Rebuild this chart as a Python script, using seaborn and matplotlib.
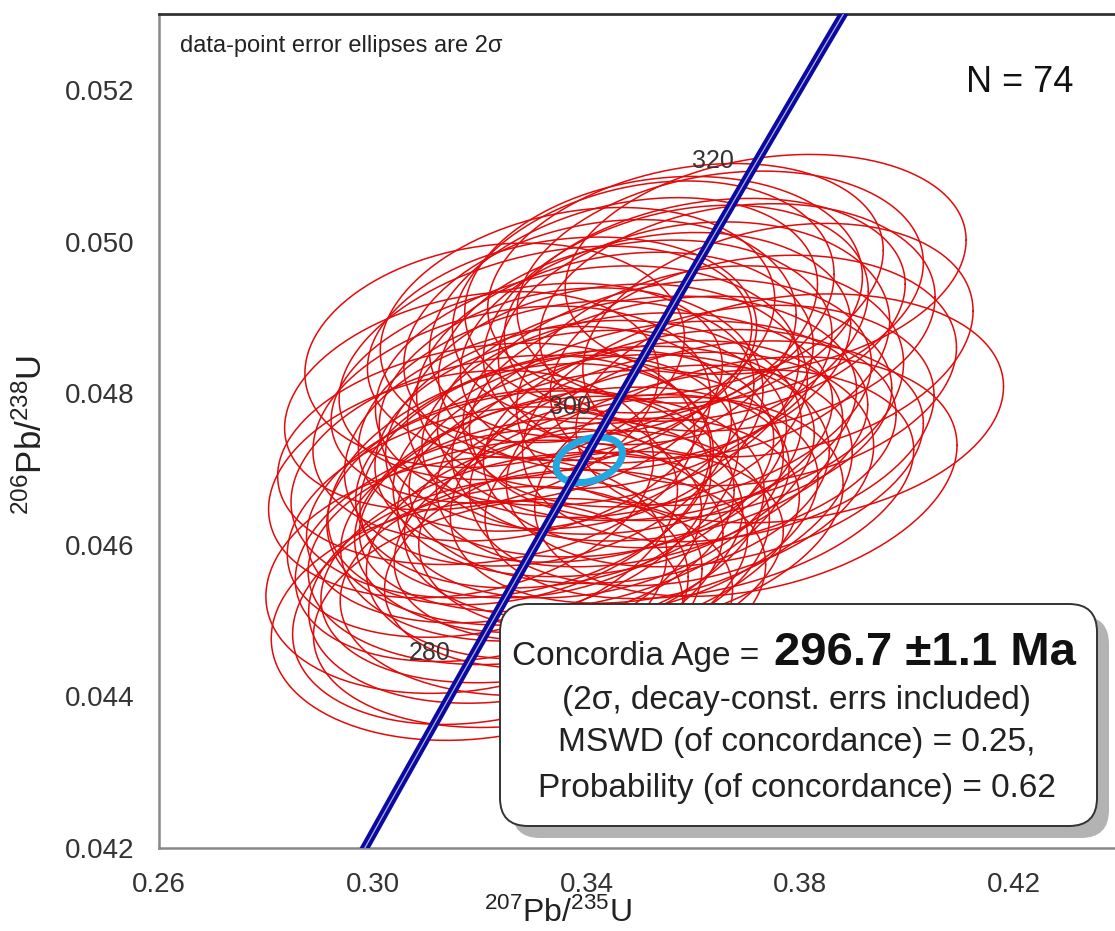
import numpy as np
import pandas as pd
import matplotlib
matplotlib.use("Agg")
import matplotlib.pyplot as plt
import seaborn as sns
from matplotlib.patches import FancyBboxPatch
from matplotlib.transforms import IdentityTransform

# ---------------- data ----------------
# concordia curve (age in Ma, 207Pb/235U, 206Pb/238U)
conc_age = [260, 270, 280, 290, 300, 310, 320, 330, 340]
conc_x = [0.291832, 0.304617, 0.317529, 0.330569, 0.343737, 0.357036, 0.370471, 0.384031, 0.397730]
conc_y = [0.0411569, 0.0427733, 0.0443921, 0.0460135, 0.0476374, 0.0492638, 0.0508927, 0.0525242, 0.0541582]
age_labels = [280, 300, 320]

# data-point ellipses: centre, 2-sigma errors, error correlation
ell_x = [0.3165, 0.3175, 0.3185, 0.3195, 0.3205, 0.3212, 0.3220, 0.3228, 0.3235, 0.3242, 0.3248, 0.3254,
         0.3260, 0.3267, 0.3274, 0.3281, 0.3288, 0.3295, 0.3302, 0.3309, 0.3316, 0.3323, 0.3330, 0.3337, 0.3343, 0.3349,
         0.3354, 0.3359, 0.3365, 0.3371, 0.3377, 0.3383, 0.3389, 0.3395, 0.3401, 0.3407, 0.3413, 0.3419, 0.3425, 0.3432, 0.3439, 0.3446,
         0.3453, 0.3461, 0.3469, 0.3476, 0.3483, 0.3491, 0.3499, 0.3506, 0.3513, 0.3521, 0.3529, 0.3537, 0.3544, 0.3551,
         0.3559, 0.3567, 0.3576, 0.3585, 0.3593, 0.3601, 0.3611, 0.3621, 0.3631, 0.3640, 0.3650,
         0.3665, 0.3682, 0.3698, 0.3712, 0.3735, 0.3758, 0.3780]
ell_y = [0.04680, 0.04560, 0.04790, 0.04500, 0.04630, 0.04720, 0.04520, 0.04850, 0.04600, 0.04690, 0.04540, 0.04650,
         0.04760, 0.04590, 0.04680, 0.04510, 0.04800, 0.04650, 0.04570, 0.04730, 0.04620, 0.04840, 0.04690, 0.04550, 0.04770, 0.04640,
         0.04860, 0.04700, 0.04600, 0.04780, 0.04660, 0.04890, 0.04730, 0.04580, 0.04810, 0.04680, 0.04740, 0.04620, 0.04870, 0.04710, 0.04790, 0.04650,
         0.04830, 0.04700, 0.04900, 0.04760, 0.04640, 0.04850, 0.04720, 0.04920, 0.04780, 0.04680, 0.04860, 0.04750, 0.04930, 0.04800,
         0.04700, 0.04890, 0.04780, 0.04950, 0.04740, 0.04870, 0.04680, 0.04910, 0.04810, 0.04720, 0.04940,
         0.04760, 0.04900, 0.04690, 0.04830, 0.04970, 0.04870, 0.04780]
ell_sx = [0.0360, 0.0375, 0.0350, 0.0385, 0.0365, 0.0390, 0.0370, 0.0355, 0.0380, 0.0395, 0.0368, 0.0378,
          0.0372, 0.0388, 0.0358, 0.0392, 0.0366, 0.0381, 0.0399, 0.0362, 0.0376, 0.0386, 0.0354, 0.0398, 0.0370, 0.0383,
          0.0364, 0.0391, 0.0377, 0.0359, 0.0402, 0.0369, 0.0385, 0.0373, 0.0396, 0.0361, 0.0389, 0.0379, 0.0367, 0.0394, 0.0374, 0.0387,
          0.0371, 0.0393, 0.0363, 0.0384, 0.0397, 0.0368, 0.0380, 0.0357, 0.0392, 0.0376, 0.0365, 0.0389, 0.0372, 0.0382,
          0.0378, 0.0360, 0.0395, 0.0370, 0.0386, 0.0366, 0.0401, 0.0375, 0.0362, 0.0390, 0.0380,
          0.0385, 0.0370, 0.0395, 0.0380, 0.0375, 0.0365, 0.0400]
ell_sy = [0.00150, 0.00156, 0.00144, 0.00158, 0.00152, 0.00146, 0.00157, 0.00148, 0.00154, 0.00160, 0.00149, 0.00153,
          0.00155, 0.00148, 0.00159, 0.00151, 0.00145, 0.00156, 0.00152, 0.00158, 0.00147, 0.00154, 0.00160, 0.00149, 0.00152, 0.00156,
          0.00146, 0.00157, 0.00151, 0.00159, 0.00148, 0.00155, 0.00153, 0.00143, 0.00158, 0.00150, 0.00156, 0.00147, 0.00159, 0.00152, 0.00154, 0.00148,
          0.00156, 0.00151, 0.00158, 0.00146, 0.00155, 0.00152, 0.00149, 0.00160, 0.00148, 0.00157, 0.00152, 0.00145, 0.00156, 0.00150,
          0.00154, 0.00158, 0.00148, 0.00153, 0.00144, 0.00156, 0.00151, 0.00147, 0.00158, 0.00149, 0.00153,
          0.00156, 0.00150, 0.00158, 0.00152, 0.00145, 0.00154, 0.00151]
ell_rho = [0.22, 0.18, 0.25, 0.15, 0.28, 0.20, 0.24, 0.16, 0.30, 0.21, 0.19, 0.26,
           0.23, 0.17, 0.29, 0.20, 0.25, 0.14, 0.27, 0.22, 0.18, 0.31, 0.24, 0.16, 0.28, 0.21,
           0.19, 0.26, 0.23, 0.15, 0.30, 0.22, 0.17, 0.27, 0.20, 0.25, 0.13, 0.29, 0.21, 0.24, 0.18, 0.26,
           0.22, 0.16, 0.28, 0.20, 0.25, 0.19, 0.31, 0.23, 0.17, 0.27, 0.21, 0.24, 0.15, 0.26,
           0.20, 0.28, 0.18, 0.25, 0.22, 0.16, 0.30, 0.23, 0.19, 0.27, 0.21,
           0.24, 0.18, 0.26, 0.20, 0.22, 0.25, 0.19]

# concordia age ellipse
age_x, age_y, age_sx, age_sy, age_rho = 0.3405, 0.04712, 0.0062, 0.00030, 0.30

x_ticks = [0.26, 0.30, 0.34, 0.38, 0.42]
y_ticks = [0.042, 0.044, 0.046, 0.048, 0.050, 0.052]

# ---------------- style ----------------
sns.set_style("white")
plt.rcParams["font.family"] = ["Liberation Sans", "DejaVu Sans"]
plt.rcParams["mathtext.fontset"] = "custom"
plt.rcParams["mathtext.rm"] = "Liberation Sans"
plt.rcParams["mathtext.it"] = "Liberation Sans:italic"
plt.rcParams["mathtext.bf"] = "Liberation Sans:bold"

W, H = 1115, 931
fig = plt.figure(figsize=(W / 100, H / 100), dpi=100)
ax = fig.add_axes([159 / W, 83 / H, 956 / W, 834 / H])

theta = np.linspace(0, 2 * np.pi, 241)


def ellipse_frame(cx, cy, sx, sy, rho, uid):
    ex = cx + sx * np.cos(theta)
    ey = cy + sy * (rho * np.cos(theta) + np.sqrt(1 - rho ** 2) * np.sin(theta))
    return pd.DataFrame({"x": ex, "y": ey, "id": uid, "t": np.arange(len(theta))})


frames = [ellipse_frame(cx, cy, sx, sy, r, i)
          for i, (cx, cy, sx, sy, r) in enumerate(zip(ell_x, ell_y, ell_sx, ell_sy, ell_rho))]
df_ell = pd.concat(frames, ignore_index=True)
sns.lineplot(data=df_ell, x="x", y="y", units="id", estimator=None, sort=False,
             color="#e20a0a", linewidth=1.1, ax=ax, zorder=2)

# concordia age ellipse (cyan)
df_age = ellipse_frame(age_x, age_y, age_sx, age_sy, age_rho, 0)
sns.lineplot(data=df_age, x="x", y="y", sort=False, estimator=None,
             color="#1fa8e2", linewidth=5.0, ax=ax, zorder=3)

# concordia band
df_conc = pd.DataFrame({"x": conc_x, "y": conc_y, "age": conc_age})
sns.lineplot(data=df_conc, x="x", y="y", sort=False, estimator=None,
             color="#0a0aa0", linewidth=6.5, ax=ax, zorder=4)
sns.lineplot(data=df_conc, x="x", y="y", sort=False, estimator=None,
             color="white", linewidth=0.9, alpha=0.7, ax=ax, zorder=5)

for a in age_labels:
    i = conc_age.index(a)
    ax.annotate(str(a), xy=(conc_x[i], conc_y[i]), xytext=(-26.5, 9.5),
                textcoords="offset points", ha="center", va="center",
                fontsize=18, color="#333333", zorder=6)

ax.set_xlim(0.26, 0.26 + 956 / 5345)
ax.set_ylim(0.042, 0.042 + 834 / 75800)
ax.set_xticks(x_ticks)
ax.set_xticklabels([f"{v:.2f}" for v in x_ticks])
ax.set_yticks(y_ticks)
ax.set_yticklabels([f"{v:.3f}" for v in y_ticks])
ax.set_xticks(np.arange(0.28, 0.44, 0.04), minor=True)
ax.set_yticks(np.arange(0.043, 0.0535, 0.002), minor=True)
ax.tick_params(axis="both", which="major", direction="in", length=7, width=1.2,
               color="#777777", labelsize=20, labelcolor="#333333", pad=17)
ax.tick_params(axis="both", which="minor", direction="in", length=4, width=1.0, color="#777777")
ax.tick_params(axis="y", which="major", pad=18)

ax.spines["right"].set_visible(False)
ax.spines["top"].set_color("#333333")
ax.spines["top"].set_linewidth(2.0)
for s in ("left", "bottom"):
    ax.spines[s].set_color("#888888")
    ax.spines[s].set_linewidth(1.8)

ax.set_xlabel(r"$^{207}$Pb/$^{235}$U", fontsize=23, color="#222222")
ax.set_ylabel(r"$^{206}$Pb/$^{238}$U", fontsize=25, color="#222222")
ax.xaxis.set_label_coords((558 - 159) / 956, (848 - 898) / 834)
ax.yaxis.set_label_coords((49 - 159) / 956, (848 - 435) / 834)

fig.text(180 / W, 1 - 46 / H, "data-point error ellipses are 2σ", ha="left", va="center",
         fontsize=17, color="#222222")
fig.text(1020 / W, 1 - 83 / H, "N = 74", ha="center", va="center", fontsize=26, color="#111111")

# result box with shadow (pixel coordinates)
bx0, bx1, by_top, by_bot = 500, 1097, 604, 826
shadow = FancyBboxPatch((bx0 + 12, H - by_bot - 12), bx1 - bx0, by_bot - by_top,
                        boxstyle="round,pad=0,rounding_size=28", transform=IdentityTransform(),
                        facecolor="#b3b3b3", edgecolor="none", zorder=20)
box = FancyBboxPatch((bx0, H - by_bot), bx1 - bx0, by_bot - by_top,
                     boxstyle="round,pad=0,rounding_size=28", transform=IdentityTransform(),
                     facecolor="white", edgecolor="#333333", linewidth=1.4, zorder=21)
fig.add_artist(shadow)
fig.add_artist(box)

fig.text(768 / W, 1 - 665 / H, "Concordia Age = ", ha="right", va="baseline",
         fontsize=24, color="#222222", zorder=22)
fig.text(774 / W, 1 - 665 / H, "296.7 ±1.1 Ma", ha="left", va="baseline",
         fontsize=34, fontweight="bold", color="#111111", zorder=22)
fig.text(797 / W, 1 - 700 / H, "(2σ, decay-const. errs included)", ha="center", va="center",
         fontsize=24, color="#222222", zorder=22)
fig.text(797 / W, 1 - 743 / H, "MSWD (of concordance) = 0.25,", ha="center", va="center",
         fontsize=24, color="#222222", zorder=22)
fig.text(797 / W, 1 - 788 / H, "Probability (of concordance) = 0.62", ha="center", va="center",
         fontsize=24, color="#222222", zorder=22)

fig.savefig("out.png", dpi=100)
